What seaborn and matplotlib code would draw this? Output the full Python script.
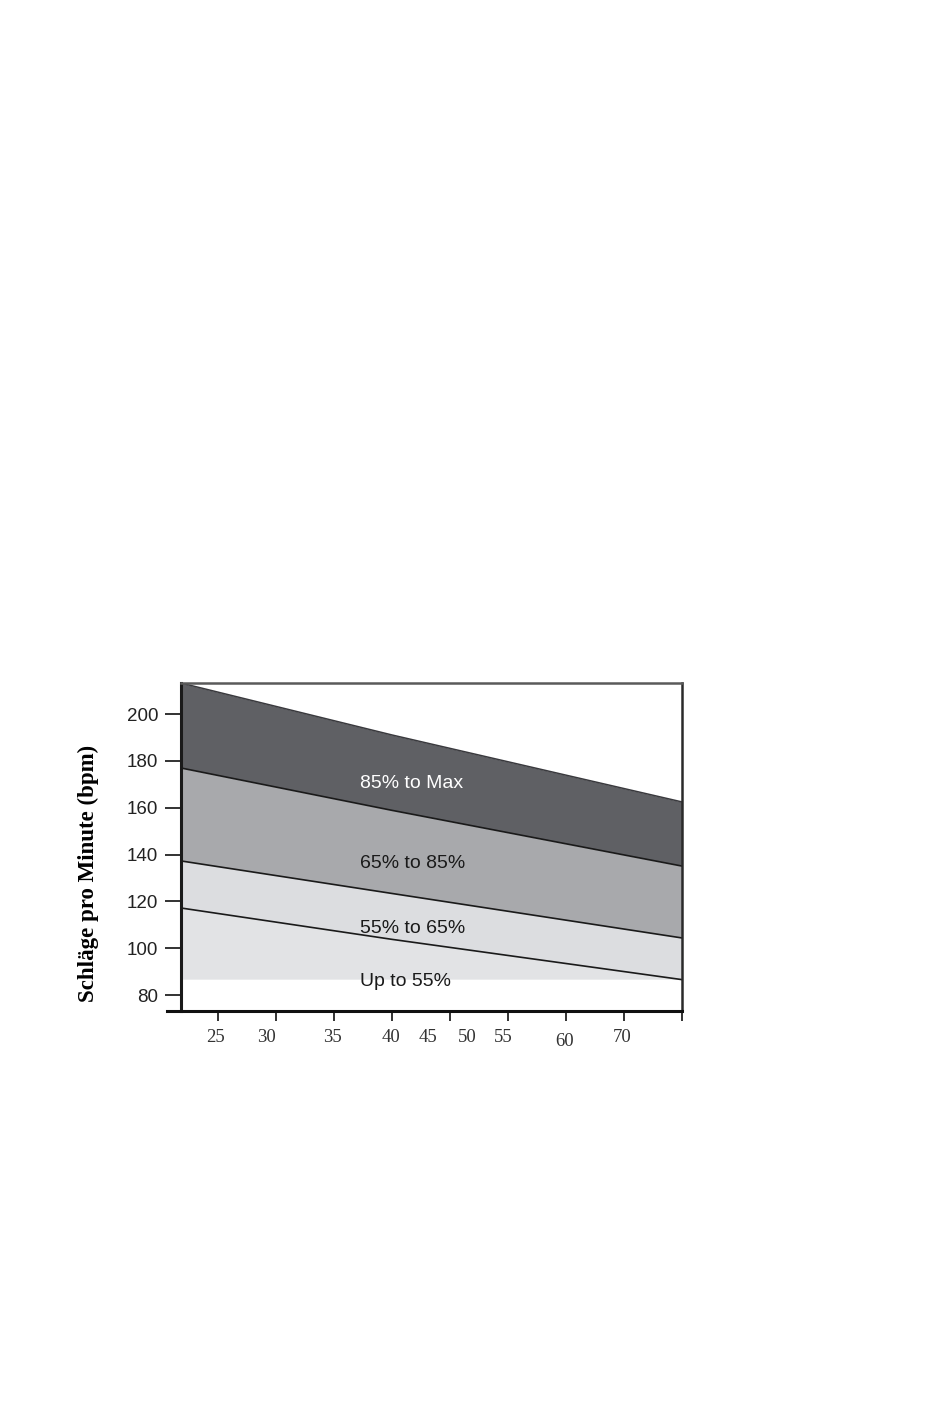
import matplotlib.pyplot as plt
import matplotlib.ticker as mticker
import pandas as pd
import seaborn as sns

# chart positions (tick index units) at which the zone borders were read
x_pos = [-0.64, 3, 8]
max_hr = [213.3, 191.1, 162.5]
hr_85 = [177.0, 158.9, 135.1]
hr_65 = [137.3, 123.4, 104.4]
hr_55 = [117.2, 103.8, 86.6]
hr_floor = [86.8, 86.8, 86.8]

zone_labels = ["85% to Max", "65% to 85%", "55% to 65%", "Up to 55%"]
zone_colors = ["#5f6064", "#a8a9ac", "#dcdde0", "#e2e3e5"]

age_labels = ["25", "30", "35", "40", "45", "50", "55", "60", "70"]
age_label_pos = [-0.05, 0.84, 1.98, 2.98, 3.62, 4.29, 4.91, 5.97, 6.97]
x_tick_pos = [0, 1, 2, 3, 4, 5, 6, 7, 8]
y_ticks = [80, 100, 120, 140, 160, 180, 200]

df = pd.DataFrame(
    {"x": x_pos, "max": max_hr, "p85": hr_85, "p65": hr_65, "p55": hr_55, "floor": hr_floor}
)

sns.set_theme(style="white")
plt.rcParams["font.family"] = ["Liberation Sans", "DejaVu Sans"]

fig = plt.figure(figsize=(9.5, 14.19), dpi=100)
ax = fig.add_axes([167 / 950, 1 - 1011 / 1419, 515 / 950, 328 / 1419])

bands = [("max", "p85"), ("p85", "p65"), ("p65", "p55"), ("p55", "floor")]
for (hi, lo), color in zip(bands, zone_colors):
    ax.fill_between(df["x"], df[lo], df[hi], color=color, linewidth=0)

sns.lineplot(data=df, x="x", y="max", color="#3a3a3e", linewidth=1.1, ax=ax)
for col in ["p85", "p65", "p55"]:
    sns.lineplot(data=df, x="x", y=col, color="#1a1a1a", linewidth=1.2, ax=ax)

# zone names
ax.text(2.45, 170.2, zone_labels[0], color="white", fontsize=14, va="center")
ax.text(2.45, 136.0, zone_labels[1], color="#1a1a1a", fontsize=14, va="center")
ax.text(2.45, 108.3, zone_labels[2], color="#1a1a1a", fontsize=14, va="center")
ax.text(2.45, 86.0, zone_labels[3], color="#1a1a1a", fontsize=14, va="center")

ax.set_xlim(-0.88, 8)
ax.set_ylim(73.2, 213.3)

ax.spines["left"].set_position(("data", -0.64))
ax.spines["left"].set_linewidth(2.2)
ax.spines["left"].set_color("#1a1a1a")
ax.spines["bottom"].set_linewidth(2.2)
ax.spines["bottom"].set_color("#111111")
ax.spines["right"].set_linewidth(1.8)
ax.spines["right"].set_color("#2a2a2a")
ax.spines["top"].set_linewidth(1.8)
ax.spines["top"].set_color("#5a5a5a")
ax.spines["top"].set_bounds(-0.64, 8)

ax.set_yticks(y_ticks)
ax.tick_params(axis="y", direction="out", length=11.5, width=1.3, color="#222222",
               pad=5, labelsize=13.5, labelcolor="#222222", left=True)

# tick marks on the evenly spaced positions, age labels where they were printed
ax.xaxis.set_major_locator(mticker.FixedLocator(x_tick_pos))
ax.xaxis.set_major_formatter(mticker.NullFormatter())
ax.xaxis.set_minor_locator(mticker.FixedLocator(age_label_pos))
ax.xaxis.set_minor_formatter(mticker.FixedFormatter(age_labels))
ax.tick_params(axis="x", which="major", direction="out", length=7, width=1.3,
               color="#222222", bottom=True)
ax.tick_params(axis="x", which="minor", length=0, pad=13, bottom=True,
               labelsize=13.5, labelcolor="#333333")
for lab in ax.get_xticklabels(minor=True):
    lab.set_family(["Liberation Serif", "DejaVu Serif"])
minor_ticks = ax.xaxis.get_minor_ticks()
minor_ticks[7].set_pad(16)

ax.set_xlabel("")
ax.set_ylabel("Schläge pro Minute (bpm)", family=["Liberation Serif", "DejaVu Serif"],
              fontsize=16.5, fontweight="bold", color="black")
ax.yaxis.set_label_coords(-0.132, 0.418)

fig.savefig("out.png", dpi=100, facecolor="white")
